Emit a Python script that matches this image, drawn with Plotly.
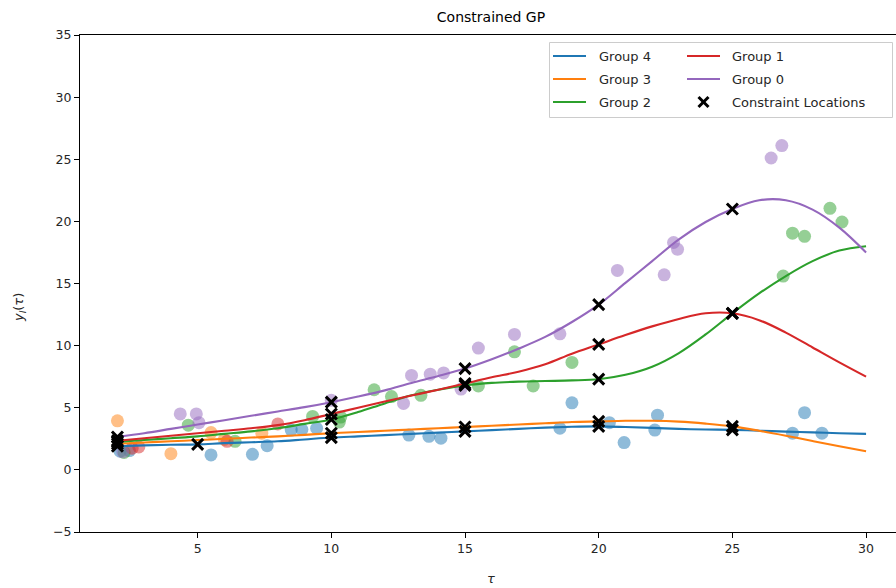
import plotly.graph_objects as go

# ---- data ---------------------------------------------------------------
tau_grid = list(range(2, 31))

mean_g4 = [1.9, 1.97, 2.02, 2.05, 2.15, 2.22, 2.3, 2.45, 2.6, 2.7, 2.8, 2.9, 3.0, 3.1,
           3.2, 3.3, 3.4, 3.47, 3.5, 3.45, 3.38, 3.3, 3.25, 3.22, 3.15, 3.08, 3.02, 2.95, 2.9]
mean_g3 = [2.1, 2.2, 2.3, 2.4, 2.5, 2.6, 2.7, 2.82, 2.95, 3.05, 3.15, 3.25, 3.35, 3.45,
           3.55, 3.65, 3.75, 3.85, 3.9, 3.95, 3.95, 3.88, 3.72, 3.5, 3.15, 2.75, 2.32, 1.9, 1.5]
mean_g2 = [2.25, 2.4, 2.55, 2.7, 2.9, 3.1, 3.35, 3.7, 4.05, 4.65, 5.35, 6.0, 6.45, 6.8,
           7.0, 7.1, 7.15, 7.2, 7.3, 7.65, 8.3, 9.4, 10.9, 12.6, 14.2, 15.6, 16.8, 17.65, 18.0]
mean_g1 = [2.35, 2.55, 2.75, 2.95, 3.15, 3.35, 3.6, 4.0, 4.5, 5.0, 5.5, 5.98, 6.45, 6.95,
           7.45, 7.9, 8.5, 9.35, 10.1, 10.85, 11.55, 12.15, 12.6, 12.6, 12.05, 11.05, 9.85, 8.65, 7.5]
mean_g0 = [2.65, 2.95, 3.3, 3.65, 4.0, 4.35, 4.7, 5.05, 5.45, 5.9, 6.4, 7.0, 7.55, 8.15,
           8.9, 9.75, 10.7, 11.9, 13.3, 15.05, 16.8, 18.55, 19.95, 21.0, 21.7, 21.7, 20.95, 19.5, 17.5]

obs_x_g4 = [2.1, 2.45, 5.5, 7.05, 7.6, 8.5, 8.9, 9.45, 12.9, 13.65, 14.1, 18.55, 19.0,
            20.4, 20.95, 22.1, 22.2, 27.25, 27.7, 28.35]
obs_y_g4 = [1.5, 1.55, 1.2, 1.25, 1.95, 3.2, 3.25, 3.35, 2.8, 2.7, 2.55, 3.35, 5.4,
            3.8, 2.2, 3.2, 4.4, 2.95, 4.6, 2.95]
obs_x_g3 = [2.0, 4.0, 5.5, 6.0, 7.4]
obs_y_g3 = [3.95, 1.3, 3.0, 2.45, 2.95]
obs_x_g2 = [2.25, 4.65, 6.4, 9.3, 10.3, 10.35, 11.6, 12.25, 13.35, 15.5, 16.85, 17.55,
            19.0, 26.9, 27.25, 27.7, 28.65, 29.1]
obs_y_g2 = [1.4, 3.6, 2.3, 4.3, 3.85, 4.25, 6.45, 5.9, 6.0, 6.75, 9.5, 6.75,
            8.65, 15.6, 19.05, 18.8, 21.05, 19.95]
obs_x_g1 = [2.55, 2.8, 6.1, 8.0]
obs_y_g1 = [1.75, 1.85, 2.3, 3.7]
obs_x_g0 = [2.2, 4.35, 4.95, 5.05, 10.0, 12.7, 13.0, 13.7, 14.2, 14.85, 15.5, 16.85,
            18.55, 20.7, 22.45, 22.8, 22.95, 26.45, 26.85]
obs_y_g0 = [1.45, 4.5, 4.5, 3.8, 5.6, 5.35, 7.6, 7.7, 7.8, 6.5, 9.8, 10.9,
            10.95, 16.05, 15.7, 18.3, 17.75, 25.1, 26.1]

constraint_tau = [2, 10, 15, 20, 25]
constraint_tau_g4 = [2, 5, 10, 15, 20, 25]

group_names = ["Group 4", "Group 3", "Group 2", "Group 1", "Group 0"]
group_colors = ["#1f77b4", "#ff7f0e", "#2ca02c", "#d62728", "#9467bd"]
group_means = [mean_g4, mean_g3, mean_g2, mean_g1, mean_g0]
group_obs = [(obs_x_g4, obs_y_g4), (obs_x_g3, obs_y_g3), (obs_x_g2, obs_y_g2),
             (obs_x_g1, obs_y_g1), (obs_x_g0, obs_y_g0)]
group_constraints = [constraint_tau_g4, constraint_tau, constraint_tau,
                     constraint_tau, constraint_tau]
constraint_label = "Constraint Locations"

# ---- layout geometry (pixels) ----------------------------------------------
FONT = "DejaVu Sans"
TXT = "#262626"
W, H = 896, 588
L, R, T, B = 80, 0, 35, 56
PW, PH = W - L - R, H - T - B


def px_x(px):
    return (px - L) / PW


def px_y(py):
    return (H - B - py) / PH


fig = go.Figure()

# observations
for color, (ox, oy) in zip(group_colors, group_obs):
    fig.add_trace(go.Scatter(
        x=ox, y=oy, mode="markers", showlegend=False, hoverinfo="skip",
        marker=dict(size=13, color=color, opacity=0.5, line=dict(width=0)),
    ))

# posterior means
for name, color, mean in zip(group_names, group_colors, group_means):
    fig.add_trace(go.Scatter(
        x=tau_grid, y=mean, mode="lines", name=name, showlegend=False,
        line=dict(color=color, width=2.1, shape="spline", smoothing=1.0),
    ))

# constraint markers on each mean curve
cx, cy = [], []
for mean, locs in zip(group_means, group_constraints):
    for t in locs:
        cx.append(t)
        cy.append(mean[tau_grid.index(t)])
fig.add_trace(go.Scatter(
    x=cx, y=cy, mode="markers", name=constraint_label, showlegend=False,
    marker=dict(symbol="x-thin", size=11, color="black",
                line=dict(color="black", width=3)),
))

# ---- legend (two columns, filled column by column) -------------------------
shapes = [dict(type="rect", xref="paper", yref="paper", layer="above",
               x0=px_x(549.5), x1=px_x(892.5), y0=px_y(117.5), y1=px_y(42.5),
               fillcolor="rgba(255,255,255,0.8)",
               line=dict(color="#cccccc", width=1))]
annotations = []
row_y = [56, 79, 102]
col_line_x = [(553, 586), (687, 720)]
col_text_x = [597, 730]
entries = [(n, c) for n, c in zip(group_names, group_colors)] + [(constraint_label, None)]
for i, (label, color) in enumerate(entries):
    col, row = divmod(i, 3)
    yy = row_y[row]
    lx0, lx1 = col_line_x[col]
    if color is not None:
        shapes.append(dict(type="line", xref="paper", yref="paper", layer="above",
                           x0=px_x(lx0), x1=px_x(lx1), y0=px_y(yy), y1=px_y(yy),
                           line=dict(color=color, width=2.1)))
    else:
        xc, h = (lx0 + lx1) / 2, 5
        for sgn in (1, -1):
            shapes.append(dict(type="line", xref="paper", yref="paper", layer="above",
                               x0=px_x(xc - h), x1=px_x(xc + h),
                               y0=px_y(yy - sgn * h), y1=px_y(yy + sgn * h),
                               line=dict(color="black", width=3)))
    annotations.append(dict(text=label, xref="paper", yref="paper",
                            x=px_x(col_text_x[col]), y=px_y(yy), showarrow=False,
                            xanchor="left", yanchor="middle",
                            font=dict(family=FONT, size=13, color=TXT)))

# axis titles
annotations.append(dict(text="<i>τ</i>", xref="paper", yref="paper",
                        x=px_x(491), y=px_y(578), showarrow=False,
                        xanchor="center", yanchor="middle",
                        font=dict(family=FONT, size=13, color=TXT)))
annotations.append(dict(text="<i>y<sub>l</sub></i>(<i>τ</i>)", xref="paper", yref="paper",
                        x=px_x(20), y=px_y(308), textangle=-90, showarrow=False,
                        xanchor="center", yanchor="middle",
                        font=dict(family=FONT, size=13, color=TXT)))

fig.update_layout(
    width=W, height=H,
    margin=dict(l=L, r=R, t=T, b=B),
    paper_bgcolor="white", plot_bgcolor="white",
    font=dict(family=FONT, size=13, color=TXT),
    title=dict(text="Constrained GP", x=491 / W, xanchor="center",
               y=1 - 17 / H, yanchor="middle", yref="container",
               font=dict(family=FONT, size=14, color="black")),
    showlegend=False,
    shapes=shapes,
    annotations=annotations,
)

fig.update_xaxes(
    range=[0.6, 31.12], tick0=0, dtick=5, showgrid=False, zeroline=False,
    showline=True, mirror=True, linecolor="black", linewidth=1,
    ticks="outside", ticklen=5, tickcolor="black", tickwidth=1,
    tickfont=dict(family=FONT, size=12.5, color=TXT),
)
fig.update_yaxes(
    range=[-5, 35], tick0=0, dtick=5, showgrid=False, zeroline=False,
    showline=True, mirror=False, linecolor="black", linewidth=1,
    ticks="outside", ticklen=5, tickcolor="black", tickwidth=1,
    tickfont=dict(family=FONT, size=12.5, color=TXT),
)

fig.write_html("out.html")
